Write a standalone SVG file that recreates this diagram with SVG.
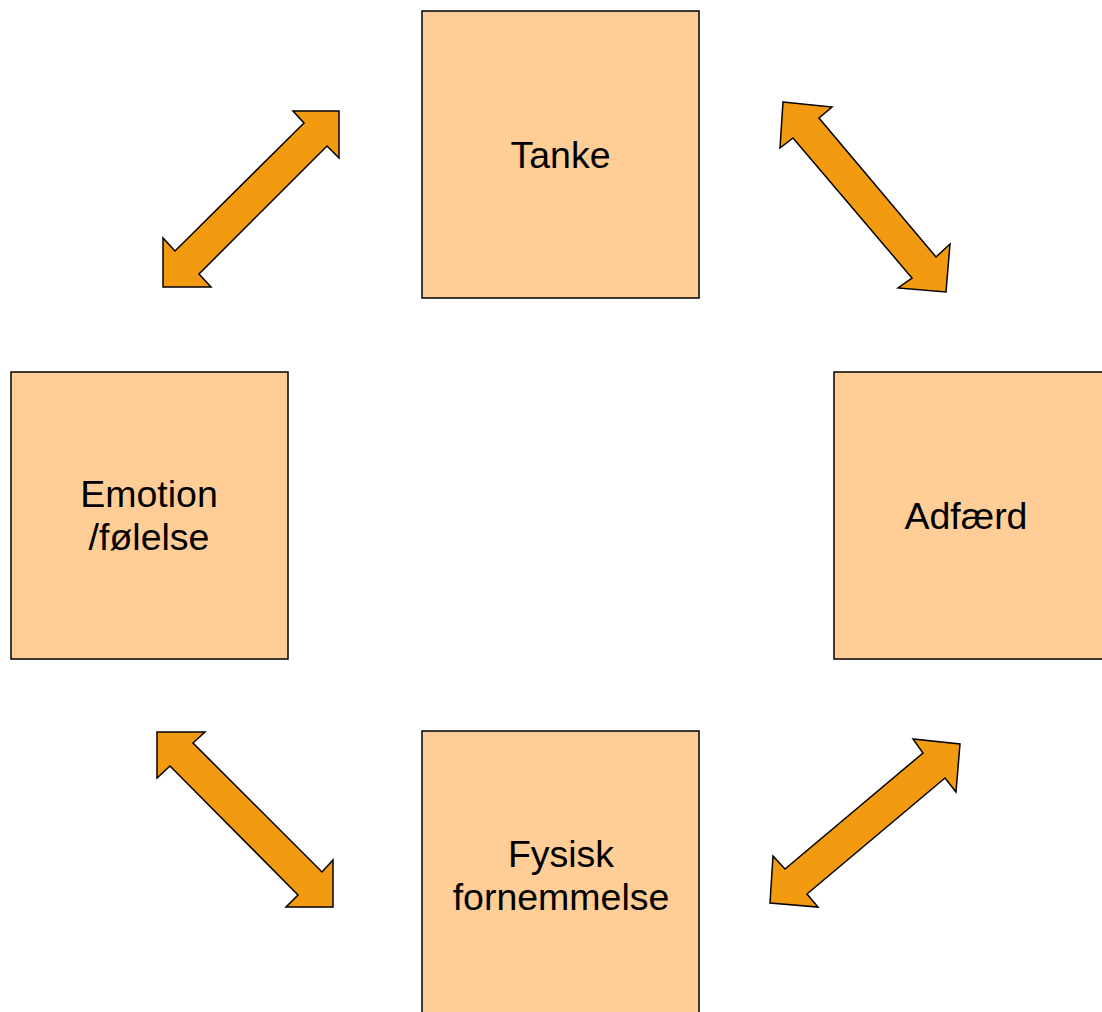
<svg xmlns="http://www.w3.org/2000/svg" width="1102" height="1012" viewBox="0 0 1102 1012">
<style>
.box{fill:#FFCD96;stroke:#000;stroke-width:1.5}
.arr{fill:#F29B11;stroke:#000;stroke-width:1.5;stroke-linejoin:miter}
.lbl{font-family:"Liberation Sans",Arial,sans-serif;font-size:37.5px;fill:#000;text-anchor:middle}
</style>
<rect width="1102" height="1012" fill="#fff"/>
<g id="connectors">
<polygon class="arr" points="339,111 339,158 327,146 199,274 211,287 163,287 163,238 175,251 304,123 293,111"/>
<polygon class="arr" points="783,102 832,107 819,118 936,257 950,244 946,292 898,288 912,278 793,138 780,148"/>
<polygon class="arr" points="157,732 205,732 193,743 322,872 333,860 333,907 286,907 298,895 170,766 157,778"/>
<polygon class="arr" points="960,744 956,792 945,778 807,894 818,907 770,903 773,856 785,869 923,753 913,739"/>
</g>
<g id="tanke">
<rect class="box" x="422" y="11" width="277" height="287"/>
<text class="lbl" x="560.5" y="168">Tanke</text>
</g>
<g id="adfaerd">
<rect class="box" x="834" y="372" width="280" height="287"/>
<text class="lbl" x="966" y="529">Adfærd</text>
</g>
<g id="emotion">
<rect class="box" x="11" y="372" width="277" height="287"/>
<text class="lbl" x="149" y="507">Emotion</text>
<text class="lbl" x="149" y="550">/følelse</text>
</g>
<g id="fysisk">
<rect class="box" x="422" y="731" width="277" height="290"/>
<text class="lbl" x="561" y="867">Fysisk</text>
<text class="lbl" x="561" y="910">fornemmelse</text>
</g>
</svg>
